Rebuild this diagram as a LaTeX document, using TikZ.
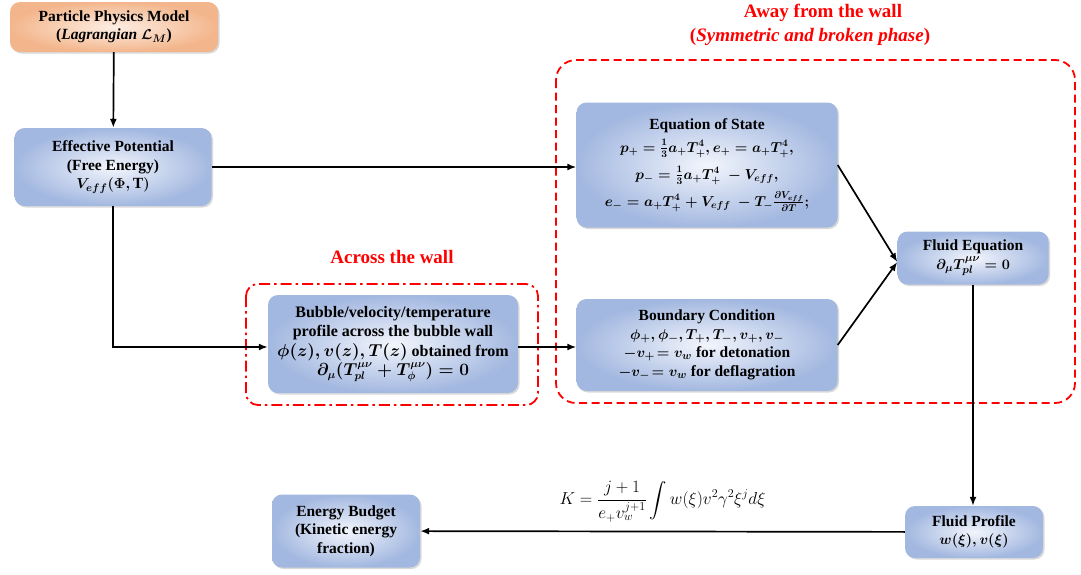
\documentclass[tikz,border=0pt]{standalone}
\usepackage{fontspec}
\setmainfont{Liberation Serif}
\usepackage{amsmath}
\usepackage{tikz}
\usetikzlibrary{arrows.meta,positioning,shadows}
\definecolor{kutuMavi}{HTML}{A3B8E0}
\definecolor{kutuAcik}{HTML}{F2F5FC}
\definecolor{seftali}{HTML}{F3B68C}
\definecolor{seftaliAcik}{HTML}{FDEEE4}
\definecolor{kirmizi}{HTML}{FF0000}

\begin{document}
\begin{tikzpicture}[x=1pt,y=-1pt,
  kutu/.style={rounded corners=10pt,inner color=kutuAcik,outer color=kutuMavi,align=center,
    font=\fontsize{15.5}{18.5}\selectfont\bfseries\boldmath,
    drop shadow={shadow xshift=1.5pt,shadow yshift=-1.5pt,opacity=0.3}},
  ok/.style={-{Latex[length=9pt,width=7pt]},line width=1.7pt},
  baslik/.style={text=kirmizi,font=\fontsize{19}{22}\selectfont\bfseries}]
\useasboundingbox (0,0) rectangle (1081,574);
% bolgeler
\draw[kirmizi,line width=1.8pt,dash pattern=on 8pt off 4.5pt,rounded corners=20pt] (556,60) rectangle (1075,403);
\draw[kirmizi,line width=1.8pt,dash pattern=on 11pt off 4pt on 2.5pt off 4pt,rounded corners=12pt] (246,284) rectangle (538,405);
\node[baslik] (uzak) at (823,13) {Away from the wall};
\node[baslik] (faz) at (810,37) {(\textit{Symmetric and broken phase})};
\node[baslik] (duvar) at (392,257) {Across the wall};
% kutular
\node[kutu,inner color=seftaliAcik,outer color=seftali,minimum width=208,minimum height=50] (model) at (114,27)
  {Particle Physics Model\\(\textit{Lagrangian $\mathcal{L}_M$})};
\node[kutu,minimum width=197,minimum height=78] (etkin) at (113,167)
  {Effective Potential\\(Free Energy)\\$V_{eff}(\Phi,\mathrm{T})$};
\node[kutu,minimum width=261,minimum height=125,font=\fontsize{14.5}{21}\selectfont\bfseries\boldmath] (durum) at (707,165)
  {{\fontsize{15.5}{18.5}\selectfont Equation of State}\\[2pt]
   $p_+=\frac{1}{3}a_+T_+^4,e_+=a_+T_+^4,$\\[6pt]
   $p_-=\frac{1}{3}a_+T_+^4\ -V_{eff},$\\[6pt]
   $e_-=a_+T_+^4+V_{eff}\ -T_-\frac{\partial V_{eff}}{\partial T};$};
\node[kutu,minimum width=151,minimum height=53] (akiskan) at (973,258)
  {Fluid Equation\\$\partial_\mu T^{\mu\nu}_{pl}=0$};
\node[kutu,minimum width=250,minimum height=98,font=\fontsize{16}{19.5}\selectfont\bfseries\boldmath] (kabarcik) at (393,344)
  {Bubble/velocity/temperature\\profile across the bubble wall\\
   $\phi(z),v(z),T(z)$ obtained from\\$\partial_\mu(T^{\mu\nu}_{pl}+T^{\mu\nu}_{\phi})=0$};
\node[kutu,minimum width=261,minimum height=92] (sinir) at (707,345)
  {Boundary Condition\\$\phi_+,\phi_-,T_+,T_-,v_+,v_-$\\
   $-v_+\!=v_w$ for detonation\\$-v_-\!=v_w$ for deflagration};
\node[kutu,minimum width=138,minimum height=52] (profil) at (974,532)
  {Fluid Profile\\$w(\xi),v(\xi)$};
\node[kutu,minimum width=148,minimum height=73] (butce) at (346,531)
  {Energy Budget\\(Kinetic energy\\fraction)};
% oklar
\draw[ok] (model) -- (etkin);
\draw[ok] (etkin.east) -- (etkin.east -| durum.west);
\draw[ok] (etkin.south) |- ([yshift=-3pt]kabarcik.west);
\draw[ok] ([yshift=-3pt]kabarcik.east) -- ([yshift=-3pt]kabarcik.east -| sinir.west);
\draw[ok] (durum.east) -- ([yshift=-4pt]akiskan.west);
\draw[ok] (sinir.east) -- ([yshift=-4pt]akiskan.west);
\draw[ok] (akiskan.south) -- (akiskan.south |- profil.north);
\draw[ok] (profil) -- (butce)
  node[midway,above=5pt,font=\fontsize{18.5}{21}\selectfont] (kinetik)
  {$K=\dfrac{j+1}{e_+v_w^{j+1}}\displaystyle\int w(\xi)v^2\gamma^2\xi^j d\xi$};
\end{tikzpicture}
\end{document}
